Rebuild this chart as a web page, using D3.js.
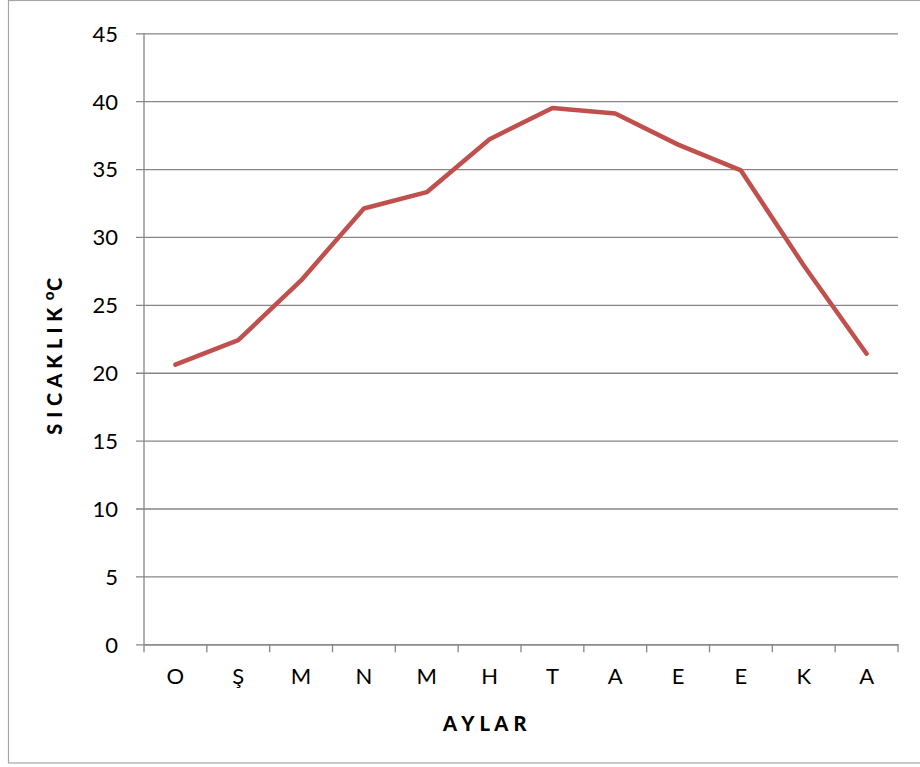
<!DOCTYPE html>
<html>
<head>
<meta charset="utf-8">
<script src="https://cdn.jsdelivr.net/npm/d3@7"></script>
<style>
  body { margin: 0; background: #fff; }
  text { font-family: Lato, "Open Sans", sans-serif; fill: #000; }
</style>
</head>
<body>
<div id="chart"></div>
<script>
// data
const months = ["O", "Ş", "M", "N", "M", "H", "T", "A", "E", "E", "K", "A"];
const temps = [20.6, 22.4, 26.8, 32.1, 33.3, 37.2, 39.5, 39.1, 36.8, 34.9, 27.9, 21.4];
const yTicks = [0, 5, 10, 15, 20, 25, 30, 35, 40, 45];

const width = 920,
    height = 767,
    margin = { top: 33.3, bottom: 767 - 644.3, left: 144, right: 920 - 898 };

const svg = d3.select("#chart")
    .append("svg")
    .attr("width", width)
    .attr("height", height);

// outer frame
svg.append("rect")
    .attr("x", 8.5).attr("y", 0.5)
    .attr("width", 930).attr("height", 762.5)
    .attr("fill", "none")
    .attr("stroke", "#a6a6a6")
    .attr("stroke-width", 1.2);

// index based band scale so repeated letters are kept apart
const xScale = d3.scaleBand()
    .domain(d3.range(months.length))
    .range([margin.left, width - margin.right]);

const yScale = d3.scaleLinear()
    .domain([0, 45])
    .range([height - margin.bottom, margin.top]);

// grid + y ticks
const yAxis = d3.axisLeft(yScale)
    .tickValues(yTicks)
    .tickSize(-(width - margin.right - margin.left))
    .tickSizeOuter(0)
    .tickPadding(26);

const gy = svg.append("g")
    .attr("transform", `translate(${margin.left},0)`)
    .call(yAxis);
gy.select(".domain").remove();
gy.selectAll(".tick line")
    .attr("x1", -8)
    .attr("stroke", "#868686")
    .attr("stroke-width", 1.3);
gy.selectAll(".tick text")
    .attr("font-size", 22)
    .attr("dy", "0.36em");

// vertical axis line
svg.append("line")
    .attr("x1", margin.left).attr("x2", margin.left)
    .attr("y1", yScale(45)).attr("y2", yScale(0))
    .attr("stroke", "#868686")
    .attr("stroke-width", 1.3);

// x axis
const xAxis = d3.axisBottom(xScale)
    .tickFormat(i => months[i])
    .tickSize(0)
    .tickPadding(24);

const gx = svg.append("g")
    .attr("transform", `translate(0,${yScale(0)})`)
    .call(xAxis);
gx.select(".domain")
    .attr("stroke", "#868686")
    .attr("stroke-width", 1.3);
gx.selectAll(".tick text").attr("font-size", 22);

// tick marks at category boundaries
svg.append("g")
    .selectAll("line")
    .data(d3.range(months.length + 1))
    .join("line")
    .attr("x1", i => margin.left + i * xScale.step())
    .attr("x2", i => margin.left + i * xScale.step())
    .attr("y1", yScale(0))
    .attr("y2", yScale(0) + 8)
    .attr("stroke", "#868686")
    .attr("stroke-width", 1.3);

// line
const line = d3.line()
    .x((d, i) => xScale(i) + xScale.bandwidth() / 2)
    .y(d => yScale(d));

svg.append("path")
    .datum(temps)
    .attr("d", line)
    .attr("fill", "none")
    .attr("stroke", "#c0504d")
    .attr("stroke-width", 4.5)
    .attr("stroke-linejoin", "round")
    .attr("stroke-linecap", "round");

// axis titles
svg.append("text")
    .attr("x", 485)
    .attr("y", 731)
    .attr("text-anchor", "middle")
    .attr("font-size", 20)
    .attr("font-weight", 900)
    .attr("letter-spacing", 0.5)
    .text("A Y L A R");

const yt = svg.append("text")
    .attr("transform", "translate(62,356) rotate(-90)")
    .attr("text-anchor", "middle")
    .attr("font-size", 20)
    .attr("font-weight", 900)
    .attr("letter-spacing", 0.5);
yt.append("tspan").text("S I C A K L I K");
yt.append("tspan").attr("font-size", 15).attr("dx", 7).attr("dy", -8).text("o");
yt.append("tspan").attr("dy", 8).text("C");
</script>
</body>
</html>
